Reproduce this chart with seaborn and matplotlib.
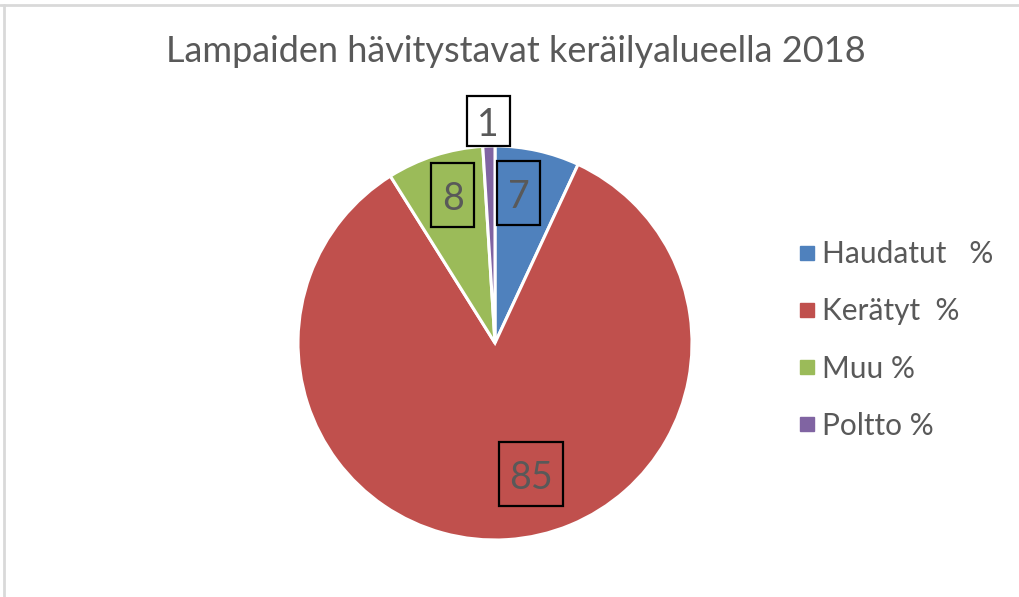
import numpy as np
import matplotlib
matplotlib.use('Agg')
import matplotlib.pyplot as plt
from matplotlib.lines import Line2D
from matplotlib.patches import Rectangle
import seaborn as sns

sns.set_theme(style='white')
plt.rcParams['font.family'] = ['Lato', 'DejaVu Sans']

# data
categories = ['Haudatut   %', 'Kerätyt  %', 'Muu %', 'Poltto %']
values = [7, 85, 8, 1]
colors = ['#4F81BD', '#C0504D', '#9BBB59', '#8064A2']
title = 'Lampaiden hävitystavat keräilyalueella 2018'

# label placement (fraction of radius, angle tweak in degrees)
label_r = [0.77, 0.69, 0.78, 1.127]
label_dang = [3.4, 11.8, -1.8, 0.0]

text_col = '#595959'

fig = plt.figure(figsize=(10.19, 5.97), dpi=100)
W, H = 1019, 597
cx, cy, r = 495, 343, 197
ax = fig.add_axes([(cx - r) / W, (H - cy - r) / H, 2 * r / W, 2 * r / H])

wedges, _ = ax.pie(values, colors=colors, startangle=90, counterclock=False,
                   wedgeprops=dict(edgecolor='white', linewidth=2.2))
ax.set_xlim(-1, 1)
ax.set_ylim(-1, 1)
ax.set_aspect('equal')
ax.axis('off')

for w, v, rf, da in zip(wedges, values, label_r, label_dang):
    ang = np.deg2rad((w.theta1 + w.theta2) / 2 + da)
    x, y = rf * np.cos(ang), rf * np.sin(ang)
    outside = rf > 1
    # box size in pixels -> data units (radius = r px)
    bw = (22 + 21 * len(str(v))) / r
    bh = (50 if outside else 64) / r
    ax.add_patch(Rectangle((x - bw / 2, y - bh / 2), bw, bh,
                           fc='white' if outside else 'none', ec='black',
                           lw=1.6, clip_on=False, zorder=3))
    ax.text(x, y, str(v), ha='center', va='center_baseline', fontsize=27,
            color=text_col, clip_on=False, zorder=4)

fig.text(cx / W + 0.02, 1 - 52 / H, title, ha='center', va='center',
         fontsize=26, color=text_col)

handles = [Line2D([], [], marker='s', linestyle='none', markersize=10,
                  markerfacecolor=c, markeredgecolor=c) for c in colors]
leg = fig.legend(handles, categories, loc='center left',
                 bbox_to_anchor=(782 / W, 1 - 340 / H), frameon=False,
                 fontsize=21.5, labelcolor=text_col, handletextpad=0.05,
                 handlelength=0.9, labelspacing=0.98, borderaxespad=0)

# chart border remnants
fig.add_artist(Line2D([0, 1], [1 - 5 / H, 1 - 5 / H], color='#d9d9d9', lw=2))
fig.add_artist(Line2D([4 / W, 4 / W], [0, 1 - 5 / H], color='#d9d9d9', lw=2))

fig.savefig('out.png', dpi=100)
